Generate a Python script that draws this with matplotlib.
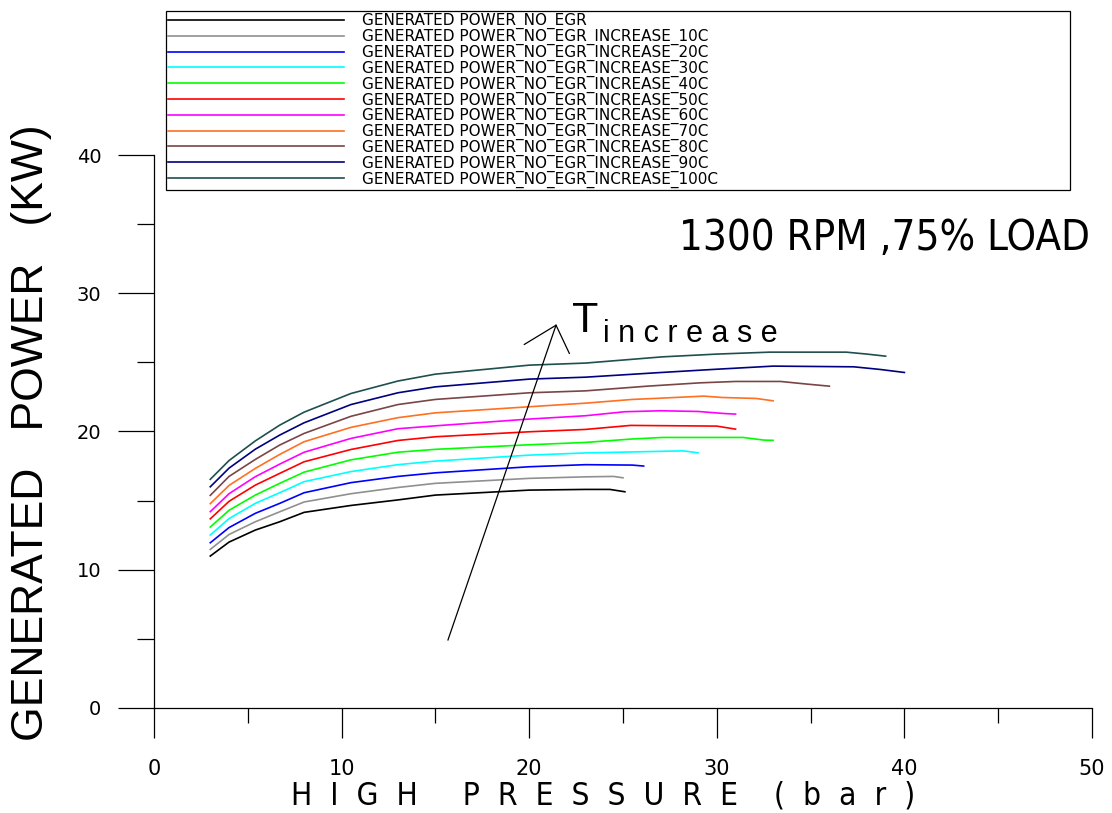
import matplotlib
matplotlib.use('Agg')
import matplotlib.pyplot as plt
from matplotlib import font_manager
from matplotlib.font_manager import FontProperties

# readings from the plot: high pressure (bar) vs generated power (kW)
x_no_egr = [3, 4, 5.4, 6.7, 8, 10.5, 13, 15, 20, 23, 24.3, 25.1]
y_no_egr = [10.99, 12.0, 12.87, 13.47, 14.15, 14.65, 15.05, 15.4, 15.76, 15.81, 15.81, 15.64]

x_10c = [3, 4, 5.4, 6.7, 8, 10.5, 13, 15, 20, 23, 24.5, 25]
y_10c = [11.47, 12.55, 13.47, 14.19, 14.9, 15.5, 15.95, 16.25, 16.61, 16.72, 16.75, 16.65]

x_20c = [3, 4, 5.4, 6.7, 8, 10.5, 13, 15, 20, 23, 25.5, 26.1]
y_20c = [11.95, 13.05, 14.08, 14.8, 15.57, 16.3, 16.75, 17.01, 17.45, 17.6, 17.57, 17.5]

x_30c = [3, 4, 5.4, 6.7, 8, 10.5, 13, 15, 20, 23, 28.2, 29]
y_30c = [12.51, 13.7, 14.8, 15.57, 16.37, 17.1, 17.6, 17.86, 18.29, 18.45, 18.6, 18.46]

x_40c = [3, 4, 5.4, 6.7, 8, 10.5, 13, 15, 20, 23, 25.4, 27.1, 31.4, 32.5, 33]
y_40c = [13.09, 14.3, 15.4, 16.25, 17.06, 17.95, 18.5, 18.71, 19.04, 19.21, 19.45, 19.57, 19.57, 19.38, 19.36]

x_50c = [3, 4, 5.4, 6.7, 8, 10.5, 13, 15, 20, 23, 25.4, 30, 31]
y_50c = [13.68, 14.95, 16.12, 16.97, 17.81, 18.7, 19.35, 19.62, 19.98, 20.15, 20.44, 20.39, 20.17]

x_60c = [3, 4, 5.4, 6.7, 8, 10.5, 13, 15, 20, 23, 25.1, 27, 29, 30.4, 31]
y_60c = [14.2, 15.5, 16.73, 17.64, 18.5, 19.5, 20.2, 20.41, 20.9, 21.14, 21.43, 21.5, 21.45, 21.3, 21.26]

x_70c = [3, 4, 5.4, 6.7, 8, 10.5, 13, 15, 20, 23, 25.5, 27, 29.3, 30.3, 32.1, 33]
y_70c = [14.78, 16.1, 17.33, 18.34, 19.26, 20.3, 21.0, 21.35, 21.79, 22.05, 22.32, 22.41, 22.56, 22.46, 22.39, 22.22]

x_80c = [3, 4, 5.4, 6.7, 8, 10.5, 13, 15, 20, 23, 26.3, 29.1, 31, 33.4, 34.8, 36]
y_80c = [15.38, 16.75, 17.98, 19.02, 19.86, 21.1, 21.95, 22.32, 22.8, 22.94, 23.28, 23.52, 23.62, 23.62, 23.43, 23.28]

x_90c = [3, 4, 5.4, 6.7, 8, 10.5, 13, 15, 20, 23, 26.8, 29.8, 33, 37.3, 38.7, 40]
y_90c = [16.0, 17.35, 18.72, 19.74, 20.63, 21.95, 22.8, 23.23, 23.79, 23.93, 24.25, 24.49, 24.73, 24.68, 24.49, 24.27]

x_100c = [3, 4, 5.4, 6.7, 8, 10.5, 13, 15, 20, 23, 27.1, 30, 32.8, 36.9, 38, 39]
y_100c = [16.54, 17.9, 19.32, 20.46, 21.4, 22.75, 23.65, 24.15, 24.8, 24.95, 25.4, 25.6, 25.74, 25.74, 25.6, 25.45]

labels = ['GENERATED POWER_NO_EGR'] + \
         ['GENERATED POWER_NO_EGR_INCREASE_%dC' % t for t in range(10, 101, 10)]
colors = ['#000000', '#909090', '#0000ff', '#00ffff', '#00ff00', '#ff0000',
          '#ff00ff', '#ff7020', '#7a4545', '#000080', '#1f4f4f']

xs = [x_no_egr, x_10c, x_20c, x_30c, x_40c, x_50c, x_60c, x_70c, x_80c, x_90c, x_100c]
ys = [y_no_egr, y_10c, y_20c, y_30c, y_40c, y_50c, y_60c, y_70c, y_80c, y_90c, y_100c]

# arrow showing the temperature increase (data coords)
arrow_base = (15.67, 4.92)
arrow_tip = (21.43, 27.69)
arrow_barbs = [(19.74, 26.30), (21.43, 27.69), (22.14, 25.65)]


def find_narrow_font():
    # look for any condensed / narrow sans face that is installed
    prefs = ['Liberation Sans Narrow', 'DejaVu Sans', 'Noto Sans', 'Open Sans', 'Roboto']
    found = {}
    for f in font_manager.fontManager.ttflist:
        is_narrow = ('Narrow' in f.name or 'Condensed' in f.name
                     or str(f.stretch) in ('condensed', 'semi-condensed', '62.5', '75', '87.5'))
        if not is_narrow or f.style != 'normal':
            continue
        if str(f.weight) not in ('400', 'normal', 'regular', 'book'):
            continue
        found.setdefault(f.name, f.fname)
    for p in prefs:
        if p in found:
            return FontProperties(fname=found[p])
    if found:
        return FontProperties(fname=sorted(found.values())[0])
    return FontProperties(family='DejaVu Sans')


narrow = find_narrow_font()
names = {f.name for f in font_manager.fontManager.ttflist}
arial = 'Liberation Sans' if 'Liberation Sans' in names else 'DejaVu Sans'

fig = plt.figure(figsize=(11.12, 8.13), dpi=100)
ax = fig.add_axes([0.1385, 0.1292, 0.8435, 0.6801])

for x, y, c, lab in zip(xs, ys, colors, labels):
    ax.plot(x, y, color=c, lw=1.2, label=lab)

ax.plot([arrow_base[0], arrow_tip[0]], [arrow_base[1], arrow_tip[1]], color='black', lw=0.9)
ax.plot([p[0] for p in arrow_barbs], [p[1] for p in arrow_barbs], color='black', lw=0.9)

ax.set_xlim(0, 50)
ax.set_ylim(0, 40)
ax.set_xticks(range(0, 51, 10))
ax.set_xticks(range(5, 50, 10), minor=True)
ax.set_yticks(range(0, 41, 10))
ax.set_yticks(range(5, 40, 10), minor=True)

for s in ['top', 'right']:
    ax.spines[s].set_visible(False)
for s in ['left', 'bottom']:
    ax.spines[s].set_linewidth(0.9)

ax.tick_params(axis='x', which='major', direction='out', length=21.6, width=0.9, pad=15)
ax.tick_params(axis='x', which='minor', direction='out', length=10.8, width=0.9)
ax.tick_params(axis='y', which='major', direction='out', length=25.9, width=0.9, pad=12)
ax.tick_params(axis='y', which='minor', direction='out', length=12.2, width=0.9)
for t in ax.get_xticklabels():
    t.set_fontfamily('DejaVu Sans')
    t.set_fontsize(15)
for t in ax.get_yticklabels():
    t.set_fontfamily('DejaVu Sans')
    t.set_fontsize(14)

xlab = ax.set_xlabel('H  I  G  H     P  R  E  S  S  U  R  E    (  b  a  r  )',
                     fontproperties=narrow, va='baseline', ha='center')
xlab.set_fontsize(25)
ax.xaxis.set_label_coords(0.479, -0.1754)
ax.set_ylabel('GENERATED   POWER   (KW)', family=arial, fontsize=32,
              va='center', ha='center')
ax.yaxis.set_label_coords(-0.1311, 0.497)

rpm = ax.text(0.998, 0.828, '1300 RPM ,75% LOAD', transform=ax.transAxes,
              fontproperties=narrow, ha='right', va='baseline')
rpm.set_fontsize(40)
ax.text(0.4456, 0.680, 'T', transform=ax.transAxes, family=arial,
        fontsize=31, ha='left', va='baseline')
ax.text(0.4787, 0.662, 'i n c r e a s e', transform=ax.transAxes, family=arial,
        fontsize=22, ha='left', va='baseline')

leg = ax.legend(loc='upper left', bbox_to_anchor=(0.1493, 0.7651, 0.8129, 0.2214),
                bbox_transform=fig.transFigure, mode='expand', ncol=1,
                prop={'family': 'DejaVu Sans', 'size': 11},
                handlelength=11.5, handletextpad=1.2, labelspacing=-0.025,
                borderpad=0.15, borderaxespad=0, fancybox=False, framealpha=1)
leg.get_frame().set_edgecolor('black')
leg.get_frame().set_linewidth(0.9)

# shrink the wide texts to the width they take in the original
renderer = fig.canvas.get_renderer()
for txt, target_px in [(xlab, 624), (rpm, 410)]:
    w = txt.get_window_extent(renderer).width
    if w > target_px:
        txt.set_fontsize(txt.get_fontsize() * target_px / w)

fig.savefig('out.png', dpi=100)
